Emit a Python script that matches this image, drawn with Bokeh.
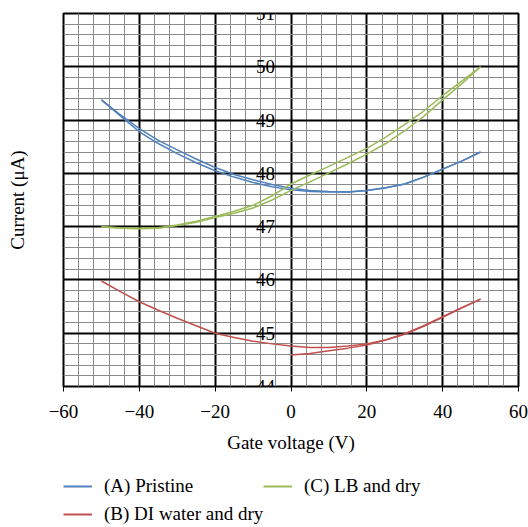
from bokeh.plotting import figure
from bokeh.layouts import column
from bokeh.models import FixedTicker, LinearAxis, Legend, LegendItem, Range1d
from bokeh.embed import file_html
from bokeh.resources import INLINE

# ---- axis ticks ----
x_ticks = [-60, -40, -20, 0, 20, 40, 60]
x_tick_labels = ["−60", "−40", "−20", "0", "20", "40", "60"]
x_minor = [-60, -56, -52, -48, -44, -40, -36, -32, -28, -24, -20, -16, -12, -8, -4,
           0, 4, 8, 12, 16, 20, 24, 28, 32, 36, 40, 44, 48, 52, 56, 60]
y_ticks = [44, 45, 46, 47, 48, 49, 50, 51]
y_minor = [44.0, 44.2, 44.4, 44.6, 44.8, 45.0, 45.2, 45.4, 45.6, 45.8, 46.0, 46.2, 46.4,
           46.6, 46.8, 47.0, 47.2, 47.4, 47.6, 47.8, 48.0, 48.2, 48.4, 48.6, 48.8, 49.0,
           49.2, 49.4, 49.6, 49.8, 50.0, 50.2, 50.4, 50.6, 50.8, 51.0]

# ---- data ----
vg = [-50, -45, -40, -35, -30, -25, -20, -15, -10, -5, 0, 5, 10, 15, 20, 25, 30, 35, 40, 45, 50]
vg_half = [0, 5, 10, 15, 20, 25, 30, 35, 40, 45, 50]

pristine_up = [49.38, 49.10, 48.84, 48.62, 48.44, 48.27, 48.11, 47.98, 47.88, 47.79, 47.72,
               47.68, 47.66, 47.65, 47.68, 47.73, 47.80, 47.93, 48.08, 48.23, 48.40]
pristine_dn = [49.38, 49.08, 48.78, 48.56, 48.37, 48.20, 48.05, 47.93, 47.83, 47.75, 47.69,
               47.66, 47.65, 47.65, 47.68, 47.73, 47.80, 47.93, 48.08, 48.23, 48.40]

diwater_a = [45.98, 45.78, 45.59, 45.43, 45.28, 45.14, 45.00, 44.92, 44.85, 44.80, 44.76,
             44.73, 44.73, 44.76, 44.80, 44.88, 44.99, 45.14, 45.31, 45.48, 45.64]
diwater_b = [44.59, 44.62, 44.67, 44.72, 44.78, 44.87, 44.98, 45.13, 45.30, 45.47, 45.64]

lb_up = [47.00, 46.98, 46.97, 46.98, 47.03, 47.10, 47.19, 47.29, 47.40, 47.58, 47.80,
         47.97, 48.13, 48.30, 48.47, 48.68, 48.92, 49.17, 49.46, 49.73, 50.00]
lb_dn = [47.00, 46.97, 46.96, 46.97, 47.02, 47.08, 47.17, 47.25, 47.35, 47.50, 47.68,
         47.84, 48.01, 48.18, 48.36, 48.56, 48.80, 49.07, 49.38, 49.68, 50.00]

series_labels = ["(A) Pristine", "(B) DI water and dry", "(C) LB and dry"]

BLUE = "#4F81BD"
RED = "#C0504D"
GREEN = "#9BBB59"
FONT = "Liberation Serif"
FS = "19px"

p = figure(width=528, height=466, x_range=Range1d(-60, 60), y_range=Range1d(44, 51),
           output_backend="svg", toolbar_location=None,
           min_border_left=63, min_border_right=10, min_border_top=13, min_border_bottom=80)

p.outline_line_color = "black"
p.outline_line_width = 2

# grids
for g, tk, mn in ((p.xgrid, x_ticks, x_minor), (p.ygrid, y_ticks, y_minor)):
    g.ticker = FixedTicker(ticks=tk, minor_ticks=mn)
    g.grid_line_color = "black"
    g.grid_line_width = 2
    g.minor_grid_line_color = "#8a8a8a"
    g.minor_grid_line_width = 1

# x axis
xa = p.xaxis[0]
xa.ticker = FixedTicker(ticks=x_ticks, minor_ticks=x_minor)
xa.major_label_overrides = {t: l for t, l in zip(x_ticks, x_tick_labels)}
xa.axis_line_color = None
xa.major_tick_out = 5
xa.major_tick_in = 0
xa.major_tick_line_color = "black"
xa.minor_tick_line_color = None
xa.major_label_standoff = 13
xa.major_label_text_font = FONT
xa.major_label_text_font_size = FS
xa.major_label_text_color = "black"
xa.axis_label = "Gate voltage (V)"
xa.axis_label_text_font = FONT
xa.axis_label_text_font_size = FS
xa.axis_label_text_font_style = "normal"
xa.axis_label_text_color = "black"
xa.axis_label_standoff = 11

# y axis with tick labels at x = 0
ya = p.yaxis[0]
ya.ticker = FixedTicker(ticks=y_ticks)
ya.fixed_location = 0
ya.axis_line_color = None
ya.major_tick_line_color = None
ya.minor_tick_line_color = None
ya.major_tick_out = 0
ya.major_tick_in = 0
ya.major_label_standoff = 16
ya.major_label_text_font = FONT
ya.major_label_text_font_size = FS
ya.major_label_text_color = "black"

# y axis title on the far left
yl = LinearAxis(ticker=FixedTicker(ticks=[]), axis_label="Current (μA)",
                axis_line_color=None, major_tick_line_color=None, minor_tick_line_color=None,
                major_label_text_font_size="0px", axis_label_text_font=FONT,
                axis_label_text_font_size=FS, axis_label_text_font_style="normal",
                axis_label_text_color="black", axis_label_standoff=36)
p.add_layout(yl, "left")

# lines
p.line(vg, pristine_up, line_color=BLUE, line_width=1.5)
p.line(vg, pristine_dn, line_color=BLUE, line_width=1.5)
p.line(vg, diwater_a, line_color=RED, line_width=1.5)
p.line(vg_half, diwater_b, line_color=RED, line_width=1.5)
p.line(vg, lb_up, line_color=GREEN, line_width=1.5)
p.line(vg, lb_dn, line_color=GREEN, line_width=1.5)

# ---- legend strip below the chart (its ranges keep the keyed lines out of view) ----
lf = figure(width=528, height=61, x_range=Range1d(0, 1), y_range=Range1d(0, 1),
            output_backend="svg", toolbar_location=None, min_border=0)
lf.axis.visible = False
lf.grid.visible = False
lf.outline_line_color = None

ka = lf.line(vg, pristine_up, line_color=BLUE, line_width=2)
kb = lf.line(vg, diwater_a, line_color=RED, line_width=2)
kc = lf.line(vg, lb_up, line_color=GREEN, line_width=2)

legend_style = dict(glyph_width=29, glyph_height=20, label_height=20, label_standoff=12,
                    padding=0, margin=0, spacing=0, border_line_color=None,
                    background_fill_alpha=0, label_text_font=FONT, label_text_font_size=FS,
                    label_text_color="black")

for lab, rend, loc in ((series_labels[0], ka, (0, 30)),
                       (series_labels[2], kc, (200, 30)),
                       (series_labels[1], kb, (0, 2))):
    lf.add_layout(Legend(items=[LegendItem(label=lab, renderers=[rend])], location=loc,
                         **legend_style), "center")

open("out.html", "w").write(file_html(column(p, lf, spacing=0), INLINE))
